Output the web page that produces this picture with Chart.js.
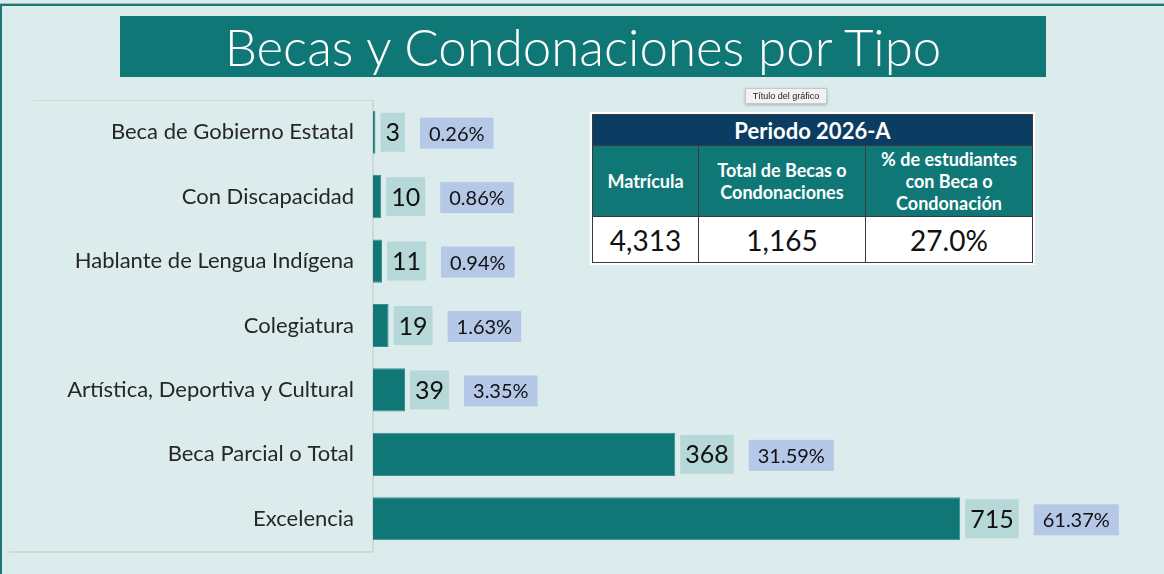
<!DOCTYPE html>
<html>
<head>
<meta charset="utf-8">
<script src="https://cdn.jsdelivr.net/npm/chart.js@4.4.1/dist/chart.umd.min.js"></script>
<style>
  html, body { margin:0; padding:0; }
  body { width:1164px; height:574px; background:#dcecec; position:relative; overflow:hidden; font-family: Lato, "Open Sans", sans-serif; }
  .abs { position:absolute; }
  #topline { left:0; top:3px; width:1164px; height:2px; background:#17797a; border-top:1px solid #9fb9b9; }
  #leftline { left:0; top:4px; width:2px; height:570px; background:#17797a; }
  #title { left:120px; top:16px; width:926px; height:61px; background:#107777; color:#fff; font-size:51px; text-align:center; line-height:61px; font-weight:300; }
  #frameTop { left:33px; top:100px; width:340px; height:1px; background:#d2d8d8; }
  #frameBot { left:9px; top:551px; width:365px; height:2px; background:#d2d8d8; }
  #frameRight { left:372px; top:100px; width:2px; height:453px; background:#d2d8d8; }
  #chartWrap { left:0; top:0; width:1164px; height:574px; }
  #tip { left:745px; top:88px; width:80px; height:14px; background:#f2f2f2; border:1px solid #c8c8c8; box-shadow:0 1px 3px rgba(0,0,0,0.25); font-family:"Liberation Sans", Arial, sans-serif; font-size:9px; line-height:14px; text-align:center; color:#222; }
  #tbl { left:590px; top:112px; border:2px solid #fff; background:#fff; }
  table { border-collapse:collapse; font-family: Lato, sans-serif; }
  td { border:1px solid #3a3a3a; text-align:center; padding:0; }
  .h1 td { background:#0b3c61; color:#fff; font-weight:700; font-size:22px; height:30px; }
  .h2 td { background:#107777; color:#fff; font-weight:700; font-size:18px; line-height:22px; height:70px; }
  .v td { background:#fff; color:#111; font-size:28px; height:45px; }
</style>
</head>
<body>
<div class="abs" id="topline"></div>
<div class="abs" id="leftline"></div>
<div class="abs" id="title">Becas y Condonaciones por Tipo</div>
<div class="abs" id="frameTop"></div>
<div class="abs" id="frameBot"></div>
<div class="abs" id="frameRight"></div>
<div class="abs" id="chartWrap"><canvas id="c" width="1164" height="574"></canvas></div>
<div class="abs" id="tip">Título del gráfico</div>
<div class="abs" id="tbl"></div>
<script>
// ---- data ----
const categories = ["Beca de Gobierno Estatal", "Con Discapacidad", "Hablante de Lengua Indígena", "Colegiatura", "Artística, Deportiva y Cultural", "Beca Parcial o Total", "Excelencia"];
const counts = [3, 10, 11, 19, 39, 368, 715];
const percentLabels = ["0.26%", "0.86%", "0.94%", "1.63%", "3.35%", "31.59%", "61.37%"];
const tablePeriod = "Periodo 2026-A";
const tableHeaders = ["Matrícula", "Total de Becas o<br>Condonaciones", "% de estudiantes<br>con Beca o<br>Condonación"];
const tableValues = ["4,313", "1,165", "27.0%"];

// ---- table ----
(function(){
  const colW = [105, 166, 166];
  let html = '<table><tr class="h1"><td colspan="3">' + tablePeriod + '</td></tr><tr class="h2">';
  tableHeaders.forEach((h,i)=>{ html += '<td style="width:'+colW[i]+'px">'+h+'</td>'; });
  html += '</tr><tr class="v">';
  tableValues.forEach(v=>{ html += '<td>'+v+'</td>'; });
  html += '</tr></table>';
  document.getElementById('tbl').innerHTML = html;
})();

// ---- labels plugin ----
const boxLabels = {
  id: 'boxLabels',
  afterDatasetsDraw(chart) {
    const ctx = chart.ctx;
    const meta = chart.getDatasetMeta(0);
    ctx.save();
    meta.data.forEach((el, i) => {
      const y = el.y;
      // value box
      ctx.font = '400 25px Lato, sans-serif';
      const vt = String(counts[i]);
      const vw = ctx.measureText(vt).width;
      const bx = el.x + 5, bw = vw + 10, bh = 39;
      ctx.fillStyle = '#b6d8d8';
      ctx.fillRect(bx, y - bh/2, bw, bh);
      ctx.fillStyle = '#111';
      ctx.textAlign = 'center'; ctx.textBaseline = 'middle';
      ctx.fillText(vt, bx + bw/2, y + 1);
      // percent box
      ctx.font = '400 20px Lato, sans-serif';
      const pt = percentLabels[i];
      const pw = ctx.measureText(pt).width;
      const px = bx + bw + 15, pwid = pw + 18, ph = 31;
      ctx.fillStyle = '#b5c8e8';
      ctx.fillRect(px, y + 1 - ph/2, pwid, ph);
      ctx.fillStyle = '#111';
      ctx.fillText(pt, px + pwid/2, y + 2);
    });
    ctx.restore();
  }
};

new Chart(document.getElementById('c'), {
  type: 'bar',
  data: {
    labels: categories,
    datasets: [{
      data: counts,
      backgroundColor: '#107676',
      borderColor: '#3a8f8f',
      borderWidth: 1,
      barPercentage: 0.67,
      categoryPercentage: 1.0
    }]
  },
  options: {
    indexAxis: 'y',
    responsive: false,
    animation: false,
    layout: { padding: { left: 0, top: 100, bottom: 23, right: 134 } },
    plugins: { legend: { display: false }, tooltip: { enabled: false }, title: { display: false } },
    scales: {
      x: { display: false, min: 0, max: 800 },
      y: {
        afterFit(scale) { scale.width = 373; scale.paddingTop = 0; scale.paddingBottom = 0; },
        grid: { display: false, drawTicks: false },
        border: { display: false },
        ticks: { font: { family: 'Lato, sans-serif', size: 22 }, color: '#262626', padding: 19 }
      }
    }
  },
  plugins: [boxLabels]
});
</script>
</body>
</html>
